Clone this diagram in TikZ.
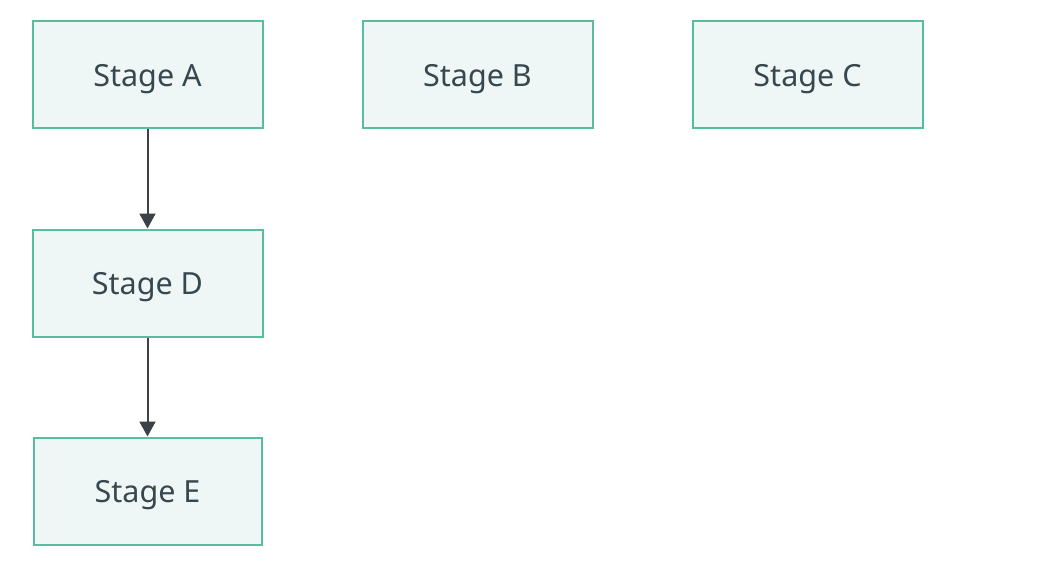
\documentclass[tikz,border=0pt]{standalone}
\usepackage{fontspec}
\setmainfont{Noto Sans}
\usetikzlibrary{arrows.meta}
\definecolor{boxfill}{HTML}{EEF7F5}
\definecolor{boxline}{HTML}{58BDA0}
\definecolor{txt}{HTML}{37474F}
\definecolor{arr}{HTML}{3C4148}
\tikzset{
  stagebox/.style={draw=boxline, fill=boxfill, line width=2pt, minimum width=230pt, minimum height=107pt, inner sep=0pt, text height=29.5pt, text depth=6pt, text=txt, font=\fontsize{30.5}{36}\selectfont},
  flow/.style={draw=arr, line width=2pt, -{Triangle[length=15pt,width=16pt]}}
}
\begin{document}
\begin{tikzpicture}[x=1pt,y=-1pt]
\useasboundingbox (0,0) rectangle (1038,572);
\node[stagebox] (A) at (147.5,75) {Stage A};
\node[stagebox] (B) at (477.5,75) {Stage B};
\node[stagebox] (C) at (807.5,75) {Stage C};
\node[stagebox] (D) at (147.5,283) {Stage D};
\node[stagebox, minimum width=228pt] (E) at (147.5,491) {Stage E};
\draw[flow] (A.south) -- (D.north);
\draw[flow] (D.south) -- (E.north);
\end{tikzpicture}
\end{document}
